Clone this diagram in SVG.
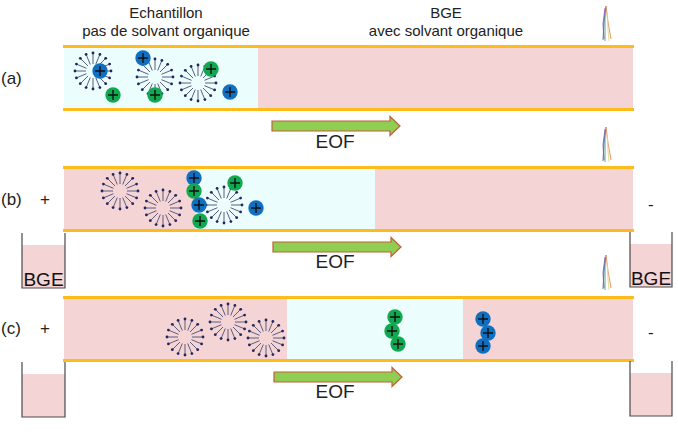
<svg xmlns="http://www.w3.org/2000/svg" xmlns:xlink="http://www.w3.org/1999/xlink" width="678" height="441" viewBox="0 0 678 441">
<style>
text{font-family:"Liberation Sans",Arial,sans-serif;fill:#222}
.head{font-size:15px;text-anchor:middle}
.lab{font-size:17px}
.eof{font-size:19px;text-anchor:middle}
.bge{font-size:19px;text-anchor:middle;fill:#111}
.pink{fill:#f4d4d4}
.light{fill:#ecfdfd}
.wall{stroke:#fdbb1c;stroke-width:3;fill:none}
.beaker{fill:none;stroke:#4a4a4a;stroke-width:1.2}
.arrow{fill:#8fce50;stroke:#c0603c;stroke-width:1.2}
.blue{fill:#0f6fc0}
.green{fill:#10a850}
.plus{stroke:#111;stroke-width:1.4;fill:none}
.spoke{stroke:#5a5f80;stroke-width:1;fill:none}
.tip{fill:#23265c}
.fan{fill:none;stroke-width:.9}
</style>
<defs>
<g id="micelle">
<path class="spoke" d="M7 0H18M6.500 2.700L16.600 6.900M5 5L12.700 12.700M2.700 6.500L6.900 16.600M0 7V18M-2.700 6.500L-6.900 16.600M-5 5L-12.700 12.700M-6.500 2.700L-16.600 6.900M-7 0H-18M-6.500 -2.700L-16.600 -6.900M-5 -5L-12.700 -12.700M-2.700 -6.500L-6.900 -16.600M0 -7V-18M2.700 -6.500L6.900 -16.600M5 -5L12.700 -12.700M6.500 -2.700L16.600 -6.900"/>
<g class="tip">
<circle cx="18" cy="0" r="1.4"/><circle cx="16.6" cy="6.9" r="1.4"/><circle cx="12.7" cy="12.7" r="1.4"/><circle cx="6.9" cy="16.6" r="1.4"/>
<circle cx="0" cy="18" r="1.4"/><circle cx="-6.9" cy="16.6" r="1.4"/><circle cx="-12.7" cy="12.7" r="1.4"/><circle cx="-16.6" cy="6.9" r="1.4"/>
<circle cx="-18" cy="0" r="1.4"/><circle cx="-16.6" cy="-6.9" r="1.4"/><circle cx="-12.7" cy="-12.7" r="1.4"/><circle cx="-6.9" cy="-16.6" r="1.4"/>
<circle cx="0" cy="-18" r="1.4"/><circle cx="6.9" cy="-16.6" r="1.4"/><circle cx="12.7" cy="-12.7" r="1.4"/><circle cx="16.6" cy="-6.9" r="1.4"/>
</g>
</g>
<g id="ion-blue"><circle class="blue" r="7.7"/><path class="plus" d="M-5 0H5M0 -5V5"/></g>
<g id="ion-green"><circle class="green" r="7.7"/><path class="plus" d="M-5 0H5M0 -5V5"/></g>
<g id="fan">
<path class="fan" stroke="#5a62c0" d="M0 0L-2 16L-3 34"/>
<path class="fan" stroke="#e08a50" d="M0 0L2 16L5 33"/>
<path class="fan" stroke="#50a080" d="M-1 6L-1 22L-1 35"/>
<path class="fan" stroke="#e0d890" d="M1 6L2 24L3 35"/>
<path class="fan" stroke="#8060b0" d="M-1 2L-3 18L-2 33"/>
</g>
<path id="eof-arrow" class="arrow" d="M0 -5H118V-9.500L128 0L118 9.500V5H0Z"/>
</defs>

<g id="titles">
<text class="head" x="166" y="18">Echantillon</text>
<text class="head" x="166" y="36">pas de solvant organique</text>
<text class="head" x="446" y="18">BGE</text>
<text class="head" x="446" y="36">avec solvant organique</text>
</g>

<g id="capillary-a">
<rect class="pink" x="64" y="47" width="569" height="62"/>
<rect class="light" x="64" y="47" width="194" height="62"/>
<path class="wall" d="M63 46.500H634M63 109.500H634"/>
<text class="lab" x="1" y="84">(a)</text>
<use xlink:href="#fan" x="606" y="6"/>
</g>
<g id="species-a">
<use xlink:href="#micelle" x="93" y="71"/>
<use xlink:href="#micelle" x="155" y="77"/>
<use xlink:href="#micelle" x="198" y="83"/>
<use xlink:href="#ion-blue" x="100" y="71"/>
<use xlink:href="#ion-blue" x="143" y="58"/>
<use xlink:href="#ion-green" x="113" y="95"/>
<use xlink:href="#ion-green" x="155" y="95"/>
<use xlink:href="#ion-green" x="211" y="69"/>
<use xlink:href="#ion-blue" x="230" y="92"/>
</g>

<g id="capillary-b">
<rect class="pink" x="64" y="168" width="569" height="62"/>
<rect class="light" x="196" y="168" width="179" height="62"/>
<path class="wall" d="M63 167.500H634M63 230.500H634"/>
<text class="lab" x="1" y="205">(b)</text>
<text class="lab" x="40" y="205">+</text>
<text class="lab" x="648" y="210">-</text>
<use xlink:href="#fan" x="606" y="127"/>
</g>
<g id="species-b">
<use xlink:href="#micelle" x="120" y="191"/>
<use xlink:href="#micelle" x="163" y="208"/>
<use xlink:href="#micelle" x="224" y="205"/>
<use xlink:href="#ion-blue" x="194" y="178"/>
<use xlink:href="#ion-green" x="194" y="191"/>
<use xlink:href="#ion-blue" x="199" y="205"/>
<use xlink:href="#ion-green" x="200" y="221"/>
<use xlink:href="#ion-green" x="235" y="183"/>
<use xlink:href="#ion-blue" x="256" y="208"/>
</g>

<g id="capillary-c">
<rect class="pink" x="64" y="297" width="569" height="63"/>
<rect class="light" x="287" y="297" width="176" height="63"/>
<path class="wall" d="M63 297.500H634M63 360.500H634"/>
<text class="lab" x="1" y="334">(c)</text>
<text class="lab" x="40" y="334">+</text>
<text class="lab" x="648" y="338">-</text>
<use xlink:href="#fan" x="606" y="255"/>
</g>
<g id="species-c">
<use xlink:href="#micelle" x="185" y="337"/>
<use xlink:href="#micelle" x="228" y="322"/>
<use xlink:href="#micelle" x="266" y="338"/>
<use xlink:href="#ion-green" x="395" y="317"/>
<use xlink:href="#ion-green" x="392" y="331"/>
<use xlink:href="#ion-green" x="398" y="344"/>
<use xlink:href="#ion-blue" x="483" y="319"/>
<use xlink:href="#ion-blue" x="488" y="333"/>
<use xlink:href="#ion-blue" x="483" y="346"/>
</g>

<g id="beaker-b-left">
<rect class="pink" x="22" y="245" width="43" height="43"/>
<path class="beaker" d="M22 233V288H65V233"/>
<text class="bge" x="43.500" y="286">BGE</text>
</g>
<g id="beaker-b-right">
<rect class="pink" x="630" y="244" width="42" height="43"/>
<path class="beaker" d="M630 232V287H672V232"/>
<text class="bge" x="651" y="285">BGE</text>
</g>
<g id="beaker-c-left">
<rect class="pink" x="22" y="374" width="43" height="43"/>
<path class="beaker" d="M22 362V417H65V362"/>
</g>
<g id="beaker-c-right">
<rect class="pink" x="630" y="373" width="42" height="43"/>
<path class="beaker" d="M630 361V416H672V361"/>
</g>

<g id="connectors">
<use xlink:href="#eof-arrow" x="272" y="126"/>
<use xlink:href="#eof-arrow" x="273" y="247"/>
<use xlink:href="#eof-arrow" x="274" y="377"/>
</g>
<g id="eof-labels">
<text class="eof" x="335" y="148">EOF</text>
<text class="eof" x="335" y="268">EOF</text>
<text class="eof" x="335" y="398">EOF</text>
</g>
</svg>
